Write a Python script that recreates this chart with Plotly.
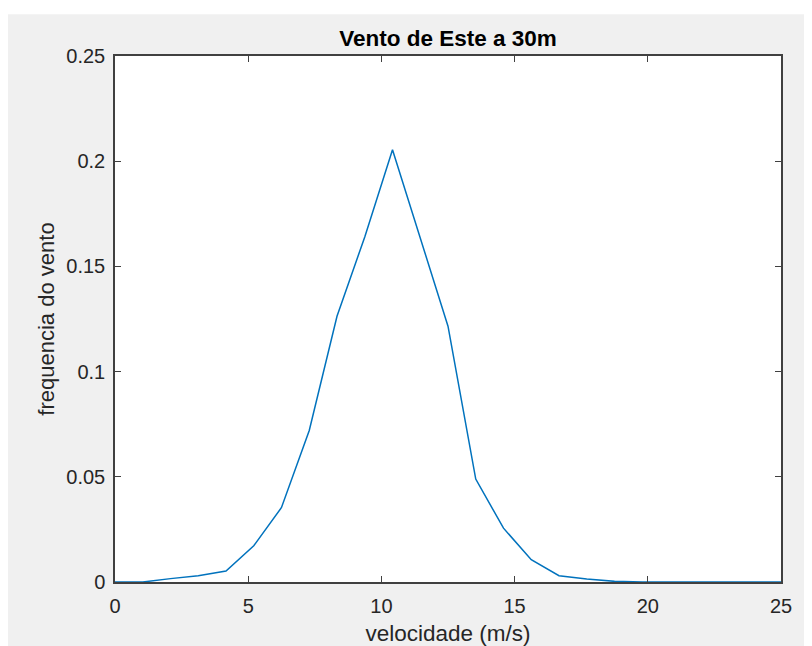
import plotly.graph_objects as go

# Data
velocidade = [k * 25 / 24 for k in range(25)]
frequencia = [0.0, 0.0, 0.0016, 0.003, 0.0052, 0.0172, 0.0354, 0.072, 0.1263,
              0.164, 0.2054, 0.163, 0.1216, 0.0489, 0.0256, 0.0106, 0.003,
              0.0014, 0.0003, 0.0, 0.0, 0.0, 0.0, 0.0, 0.0]

x_ticks = [0, 5, 10, 15, 20, 25]
y_ticks = [0, 0.05, 0.1, 0.15, 0.2, 0.25]
y_ticktext = ["0", "0.05", "0.1", "0.15", "0.2", "0.25"]

W, H = 812, 646
L, R, T, B = 107, 39, 48, 69
pw, ph = W - L - R, H - T - B

fig = go.Figure()
fig.add_trace(go.Scatter(x=velocidade, y=frequencia, mode="lines",
                         line=dict(color="#0072BD", width=1.5),
                         showlegend=False, hoverinfo="skip"))

font = "Liberation Sans, Arial, Helvetica, sans-serif"
axis_common = dict(showgrid=False, zeroline=False, showline=True, linecolor="#404040",
                   linewidth=1.5, mirror="ticks", ticks="inside", ticklen=6,
                   tickwidth=1, tickcolor="#404040",
                   tickfont=dict(family=font, size=20, color="#262626"))

fig.update_layout(
    width=W, height=H,
    margin=dict(l=L, r=R, t=T, b=B, pad=0),
    paper_bgcolor="#f0f0f0", plot_bgcolor="white",
    title=dict(text="<b>Vento de Este a 30m</b>", x=(L + pw / 2) / W, xanchor="center",
               y=1 - 30 / H, yanchor="middle", yref="container",
               font=dict(family=font, size=22.5, color="black")),
    xaxis=dict(range=[0, 25], tickvals=x_ticks, ticktext=[str(v) for v in x_ticks],
               ticklabelstandoff=5,
               title=dict(text="velocidade (m/s)", standoff=9,
                          font=dict(family=font, size=22.5, color="#262626")),
               **axis_common),
    yaxis=dict(range=[0, 0.25], tickvals=y_ticks, ticktext=y_ticktext,
               ticklabelstandoff=4,
               title=dict(text="frequencia do vento", standoff=6,
                          font=dict(family=font, size=22, color="#262626")),
               **axis_common),
    shapes=[
        dict(type="rect", xref="paper", yref="paper", x0=-L / pw - 0.05, x1=1 + R / pw + 0.05,
             y0=1 + (T - 6) / ph, y1=1 + T / ph + 0.05, fillcolor="white", line=dict(width=0),
             layer="below"),
    ],
)

fig.write_html("out.html")
